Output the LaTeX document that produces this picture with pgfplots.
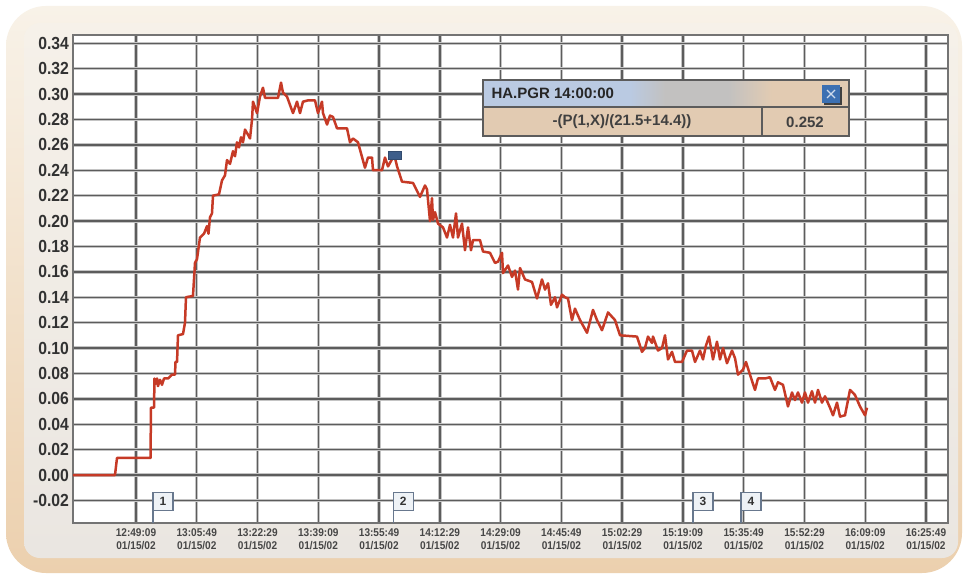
\documentclass[border=0pt]{standalone}
\usepackage{fontspec}
\setmainfont{Liberation Sans}
\newfontfamily\narrowsans[FakeStretch=0.9]{Liberation Sans}
\usepackage{pgfplots}
\pgfplotsset{compat=1.18}
\usetikzlibrary{fadings}

\definecolor{trace}{RGB}{198,58,38}
\definecolor{gridd}{RGB}{92,92,92}
\definecolor{gridl}{RGB}{196,196,196}
\definecolor{frameT}{RGB}{248,242,232}
\definecolor{frameB}{RGB}{236,208,174}
\definecolor{panelT}{RGB}{246,241,233}
\definecolor{panelB}{RGB}{234,230,225}
\definecolor{colL}{RGB}{242,234,224}
\definecolor{colR}{RGB}{228,203,175}
\definecolor{labelc}{RGB}{50,50,50}
\definecolor{boxtan}{RGB}{226,203,178}
\definecolor{boxblue}{RGB}{186,202,226}
\definecolor{boxgray}{RGB}{194,193,192}
\definecolor{btnblue}{RGB}{60,112,178}
\definecolor{flagc}{RGB}{104,120,142}
\definecolor{flagfill}{RGB}{238,242,246}
\definecolor{cursor}{RGB}{62,94,138}

\tikzfading[name=colfade, top color=transparent!100,
  middle color=transparent!0, bottom color=transparent!100]

\tikzset{evflag/.style={anchor=south west, xshift=-0.8pt, draw=flagc, line width=1.4pt,
      fill=flagfill, minimum width=20pt, minimum height=18pt, inner sep=0pt,
      font=\bfseries\fontsize{12}{12}\selectfont, text=black!80}}

\begin{document}
\begin{tikzpicture}
\useasboundingbox (0,0) rectangle (968pt,579pt);
\fill[white] (0,0) rectangle (968pt,579pt);
% rounded frame, inner panel and label column
\shade[rounded corners=40pt, top color=frameT, bottom color=frameB]
  (6pt,6pt) rectangle (962pt,573pt);
\shade[rounded corners=16pt, top color=panelT, bottom color=panelB]
  (24pt,21pt) rectangle (958pt,556pt);
\shade[left color=colL, right color=colR, path fading=colfade]
  (24pt,21pt) rectangle (73pt,556pt);

\begin{axis}[
  at={(73pt,56pt)}, anchor=south west,
  width=875pt, height=488pt, scale only axis,
  xmin=-17.28, xmax=222.71,
  ymin=-0.0378, ymax=0.3465,
  axis background/.style={fill=white},
  axis line style={draw=gridd!85!white, line width=2pt},
  grid=major,
  major grid style={draw=gridd, line width=1.4pt,
    preaction={draw=gridl, line width=3.4pt}},
  major tick length=0pt,
  ytick={-0.02,0,0.02,0.04,0.06,0.08,0.10,0.12,0.14,0.16,0.18,0.20,0.22,0.24,0.26,0.28,0.30,0.32,0.34},
  yticklabel style={/pgf/number format/fixed,
    /pgf/number format/fixed zerofill,
    /pgf/number format/precision=2,
    font=\narrowsans\bfseries\fontsize{17.5}{18}\selectfont, text=labelc, xshift=-0.5pt},
  /pgf/number format/assume math mode=true,
  xtick={0,16.6667,33.3333,50,66.6667,83.3333,100,116.6667,133.3333,150,166.6667,183.3333,200,216.6667},
  xticklabels={
    {12:49:09\\01/15/02},{13:05:49\\01/15/02},{13:22:29\\01/15/02},
    {13:39:09\\01/15/02},{13:55:49\\01/15/02},{14:12:29\\01/15/02},
    {14:29:09\\01/15/02},{14:45:49\\01/15/02},{15:02:29\\01/15/02},
    {15:19:09\\01/15/02},{15:35:49\\01/15/02},{15:52:29\\01/15/02},
    {16:09:09\\01/15/02},{16:25:49\\01/15/02}},
  xticklabel style={align=center,
    font=\narrowsans\bfseries\fontsize{11.2}{13}\selectfont, text=labelc!90!white, yshift=-2pt},
  clip=false,
]
% PGR trace (minutes after 12:49:09)
\addplot[trace, line width=2.5pt, line join=round, mark=none] coordinates {
(-17.28,0.000) (-5.76,0.000) (-5.21,0.0134) (3.98,0.0134) (4.11,0.053)
(4.94,0.053) (5.07,0.076) (5.49,0.072) (5.76,0.076) (6.03,0.070)
(6.58,0.075) (7.13,0.071) (7.68,0.076) (8.78,0.076) (9.87,0.079)
(10.70,0.079) (10.83,0.089) (11.25,0.089) (11.52,0.110) (12.89,0.111)
(13.44,0.120) (13.71,0.140) (15.63,0.141) (16.18,0.167) (16.73,0.170)
(17.55,0.187) (18.65,0.190) (19.47,0.196) (19.88,0.190) (20.30,0.203)
(20.84,0.206) (21.12,0.220) (22.76,0.221) (23.59,0.232) (24.41,0.236)
(24.96,0.248) (25.78,0.245) (26.60,0.255) (27.15,0.251) (27.70,0.262)
(28.25,0.258) (28.80,0.266) (29.35,0.262) (29.90,0.272) (30.72,0.268)
(31.27,0.265) (31.82,0.280) (32.09,0.294) (33.19,0.285) (34.01,0.298)
(34.83,0.305) (35.38,0.297) (38.95,0.297) (39.77,0.309) (40.32,0.301)
(41.41,0.298) (43.06,0.285) (44.16,0.294) (44.98,0.285) (45.80,0.294)
(47.17,0.295) (49.09,0.295) (49.92,0.285) (51.01,0.294) (51.29,0.285)
(52.39,0.276) (53.21,0.283) (54.03,0.282) (55.13,0.273) (57.87,0.273)
(58.69,0.262) (59.51,0.265) (60.88,0.262) (62.80,0.242) (63.63,0.250)
(64.73,0.250) (65.00,0.240) (67.47,0.240) (68.29,0.250) (69.12,0.243)
(70.85,0.252) (71.60,0.243) (72.96,0.231) (75.97,0.230) (77.89,0.219)
(79.26,0.228) (79.81,0.225) (80.64,0.200) (81.18,0.218) (81.46,0.201)
(82.01,0.207) (82.83,0.198) (84.20,0.195) (85.30,0.187) (86.12,0.197)
(86.94,0.187) (87.77,0.206) (88.31,0.187) (89.41,0.198) (90.23,0.177)
(91.06,0.195) (91.88,0.177) (92.43,0.185) (94.35,0.185) (95.17,0.176)
(97.09,0.175) (98.46,0.167) (99.29,0.168) (100.38,0.175) (100.66,0.159)
(102.03,0.165) (103.13,0.156) (103.95,0.161) (104.77,0.146) (105.32,0.163)
(106.69,0.154) (108.61,0.152) (109.98,0.139) (111.35,0.154) (112.18,0.146)
(113.00,0.151) (113.82,0.134) (114.92,0.140) (115.47,0.132) (116.84,0.142)
(117.66,0.140) (118.48,0.139) (119.58,0.122) (120.40,0.131) (121.78,0.122)
(123.70,0.112) (125.34,0.130) (126.44,0.122) (127.81,0.114) (129.46,0.128)
(131.38,0.122) (132.75,0.110) (137.41,0.109) (138.78,0.097) (139.60,0.100)
(140.43,0.109) (141.52,0.104) (141.80,0.109) (143.17,0.098) (144.27,0.100)
(145.09,0.110) (145.92,0.091) (147.01,0.097) (147.84,0.089) (149.75,0.089)
(151.12,0.098) (152.49,0.098) (153.32,0.089) (154.69,0.098) (155.51,0.091)
(156.33,0.102) (157.16,0.109) (158.25,0.091) (159.35,0.105) (160.17,0.091)
(161.00,0.100) (162.09,0.088) (163.46,0.098) (164.29,0.092) (165.11,0.079)
(166.48,0.083) (167.30,0.089) (168.40,0.079) (169.77,0.067) (170.59,0.076)
(172.51,0.076) (173.88,0.077) (175.25,0.067) (176.08,0.073) (177.45,0.071)
(178.82,0.054) (179.92,0.065) (180.74,0.059) (181.56,0.065) (182.66,0.057)
(183.48,0.065) (184.31,0.057) (185.40,0.066) (186.23,0.057) (187.05,0.067)
(188.15,0.057) (188.97,0.062) (190.34,0.053) (191.17,0.047) (192.26,0.057)
(193.09,0.046) (194.46,0.047) (195.83,0.067) (197.20,0.063) (198.57,0.054)
(199.94,0.047) (200.49,0.053)
};
% cursor at 14:00:00
\addplot[only marks, mark=square*, mark size=4pt,
  mark options={xscale=1.6, fill=cursor, draw=cursor!80!black}]
  coordinates {(70.85,0.252)};
% event flags
\draw[flagc, line width=1.6pt] (axis cs:4.66,-0.0378) -- ++(0pt,12pt) node[evflag] {1};
\draw[flagc, line width=1.6pt] (axis cs:70.6,-0.0378) -- ++(0pt,12pt) node[evflag] {2};
\draw[flagc, line width=1.6pt] (axis cs:152.77,-0.0378) -- ++(0pt,12pt) node[evflag] {3};
\draw[flagc, line width=1.6pt] (axis cs:165.93,-0.0378) -- ++(0pt,12pt) node[evflag] {4};
\end{axis}

% value readout window
\fill[boxtan] (483pt,443pt) rectangle (849pt,499pt);
\fill[boxblue] (483pt,472pt) rectangle (630pt,499pt);
\shade[left color=boxblue, right color=boxgray] (630pt,472pt) rectangle (665pt,499pt);
\fill[boxgray] (665pt,472pt) rectangle (728pt,499pt);
\shade[left color=boxgray, right color=boxtan] (728pt,472pt) rectangle (772pt,499pt);
\draw[gridd, line width=1.4pt] (483pt,443pt) rectangle (849pt,499pt);
\draw[gridd, line width=1.4pt] (483pt,472pt) -- (849pt,472pt);
\draw[gridd, line width=1.4pt] (762pt,443pt) -- (762pt,472pt);
\node[anchor=west, font=\bfseries\fontsize{15}{18}\selectfont, text=black!85]
  at (488pt,486pt) {HA.PGR 14:00:00};
\node[font=\bfseries\fontsize{15}{18}\selectfont, text=black!75]
  at (622pt,457pt) {-(P(1,X)/(21.5+14.4))};
\node[font=\bfseries\fontsize{15}{18}\selectfont, text=black!75]
  at (805pt,457pt) {0.252};
% close button
\fill[black!75] (824pt,474pt) rectangle (842pt,492pt);
\fill[btnblue] (822pt,476pt) rectangle (840pt,494pt);
\draw[white!75!btnblue, line width=1.2pt] (827pt,481pt) -- (835pt,489pt)
  (827pt,489pt) -- (835pt,481pt);
\end{tikzpicture}
\end{document}
